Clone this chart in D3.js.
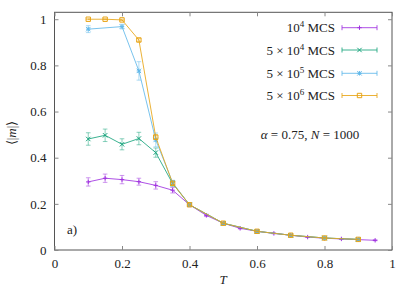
<!DOCTYPE html>
<html><head><meta charset="utf-8">
<script src="https://cdn.jsdelivr.net/npm/d3@7"></script>
<style>
body{margin:0;background:#fff;}
</style></head>
<body><svg id="c" width="415" height="291"></svg>
<script>
const T1=[0.1,0.15,0.2,0.25,0.3,0.35,0.4,0.45,0.5,0.55,0.6,0.65,0.7,0.75,0.8,0.85,0.9,0.95];
const m1=[0.295,0.311,0.305,0.296,0.28,0.259,0.196,0.150,0.116,0.094,0.081,0.072,0.064,0.056,0.051,0.048,0.045,0.042];
const e1=[0.018,0.018,0.018,0.015,0.016,0.012,0.008,0.005,0.004,0.003,0.003,0.002,0.002,0.002,0.002,0.002,0.002,0.002];
const T2=[0.1,0.15,0.2,0.25,0.3,0.35,0.4,0.5,0.6,0.7,0.8,0.9];
const m2=[0.481,0.497,0.458,0.483,0.422,0.288,0.196,0.116,0.081,0.064,0.052,0.046];
const e2=[0.027,0.027,0.024,0.027,0.02,0.012,0.006,0.003,0.002,0.002,0.002,0.002];
const T3=[0.1,0.2,0.25,0.3,0.35,0.4,0.5,0.6,0.7,0.8,0.9];
const m3=[0.957,0.968,0.776,0.477,0.292,0.196,0.116,0.081,0.064,0.052,0.046];
const e3=[0.015,0.01,0.04,0.03,0.01,0.005,0.003,0.002,0.002,0.002,0.002];
const T4=[0.1,0.15,0.2,0.25,0.3,0.35,0.4,0.5,0.6,0.7,0.8,0.9];
const m4=[1.0,1.0,0.997,0.91,0.489,0.289,0.196,0.116,0.081,0.064,0.052,0.046];
const e4=[0.002,0.002,0.003,0.006,0.01,0.006,0.004,0.002,0.002,0.002,0.002,0.002];
const colors=["#a033e0","#1aa57e","#62b9ea","#e8a415"];
const markers=["plus","cross","star","square"];
const xTicks=[0,0.2,0.4,0.6,0.8,1];
const yTicks=[0,0.2,0.4,0.6,0.8,1];
const FONT='"Liberation Serif","Times New Roman",serif';
const FS=13;

const svg=d3.select("#c").style("font-family",FONT);
const L=54.5,R=392,TOP=12.3,B=250;
const x=d3.scaleLinear().domain([0,1]).range([L,R]);
const y=d3.scaleLinear().domain([0,1.03]).range([B,TOP]);

svg.append("rect").attr("x",L).attr("y",TOP).attr("width",R-L).attr("height",B-TOP)
 .attr("fill","none").attr("stroke","#555").attr("stroke-width",1);
function styleAxis(a){
  a.attr("font-family",null);
  a.select(".domain").remove();
  a.selectAll("line").attr("stroke","#888");
  a.selectAll("text").attr("font-size",FS).attr("fill","#222").style("font-family",FONT);
}
styleAxis(svg.append("g").attr("transform",`translate(0,${B})`).call(d3.axisBottom(x).tickValues(xTicks).tickFormat(d3.format("")).tickSizeInner(-4).tickSizeOuter(0).tickPadding(9)));
styleAxis(svg.append("g").attr("transform",`translate(0,${TOP})`).call(d3.axisTop(x).tickValues(xTicks).tickFormat("").tickSizeInner(-4).tickSizeOuter(0)));
styleAxis(svg.append("g").attr("transform",`translate(${L},0)`).call(d3.axisLeft(y).tickValues(yTicks).tickFormat(d3.format("")).tickSizeInner(-4).tickSizeOuter(0).tickPadding(8)));
styleAxis(svg.append("g").attr("transform",`translate(${R},0)`).call(d3.axisRight(y).tickValues(yTicks).tickFormat("").tickSizeInner(-4).tickSizeOuter(0)));

function marker(sel,type,cx,cy,col){
  const s=2.2;
  let d;
  if(type==="plus") d=`M${cx-s},${cy}H${cx+s}M${cx},${cy-s}V${cy+s}`;
  else if(type==="cross") d=`M${cx-s},${cy-s}L${cx+s},${cy+s}M${cx-s},${cy+s}L${cx+s},${cy-s}`;
  else if(type==="star") d=`M${cx-s},${cy-s}L${cx+s},${cy+s}M${cx-s},${cy+s}L${cx+s},${cy-s}M${cx-s},${cy}H${cx+s}M${cx},${cy-s}V${cy+s}`;
  else d=`M${cx-s},${cy-s}H${cx+s}V${cy+s}H${cx-s}Z`;
  sel.append("path").attr("d",d).attr("stroke",col).attr("stroke-width",1).attr("fill","none");
}

const data=[[T1,m1,e1],[T2,m2,e2],[T3,m3,e3],[T4,m4,e4]];
const line=d3.line().x(d=>x(d[0])).y(d=>y(d[1]));
data.forEach(([T,m,e],i)=>{
  const col=colors[i];
  const gg=svg.append("g");
  const pts=T.map((t,j)=>[t,m[j],e[j]]);
  gg.append("path").attr("d",line(pts)).attr("fill","none").attr("stroke",col).attr("stroke-width",1).attr("stroke-opacity",0.85);
  pts.forEach(p=>{
    const cx=x(p[0]),y0=y(p[1]-p[2]),y1=y(p[1]+p[2]);
    gg.append("path").attr("d",`M${cx},${y0}V${y1}M${cx-2.3},${y0}H${cx+2.3}M${cx-2.3},${y1}H${cx+2.3}`)
      .attr("stroke",col).attr("stroke-width",1).attr("stroke-opacity",0.5).attr("fill","none");
    marker(gg,markers[i],cx,y(p[1]),col);
  });
});

const legY=[27.7,50,73.3,95.5];
const legTexts=[["","10","4"],["5 × ","10","4"],["5 × ","10","5"],["5 × ","10","6"]];
legTexts.forEach((lt,i)=>{
  const t=svg.append("text").attr("x",335).attr("y",legY[i]+4.5).attr("text-anchor","end").attr("font-size",FS).attr("fill","#222");
  t.append("tspan").text(lt[0]+lt[1]);
  t.append("tspan").attr("dy",-5).attr("font-size",9).text(lt[2]);
  t.append("tspan").attr("dy",5).text(" MCS");
  const col=colors[i];
  svg.append("path").attr("d",`M342,${legY[i]}H377M342,${legY[i]-2.5}V${legY[i]+2.5}M377,${legY[i]-2.5}V${legY[i]+2.5}`)
    .attr("stroke",col).attr("stroke-width",1).attr("fill","none").attr("stroke-opacity",0.85);
  marker(svg,markers[i],359.5,legY[i],col);
});

const an=svg.append("text").attr("x",310).attr("y",139).attr("text-anchor","middle").attr("font-size",FS).attr("fill","#222");
an.append("tspan").attr("font-style","italic").text("α");
an.append("tspan").text(" = 0.75, ");
an.append("tspan").attr("font-style","italic").text("N");
an.append("tspan").text(" = 1000");

svg.append("text").attr("x",72).attr("y",234).attr("text-anchor","middle").attr("font-size",FS).attr("fill","#222").text("a)");
svg.append("text").attr("x",223).attr("y",284).attr("text-anchor","middle").attr("font-size",FS).attr("font-style","italic").attr("fill","#222").text("T");
const yl=svg.append("text").attr("transform","translate(16,133) rotate(-90)").attr("text-anchor","middle").attr("font-size",FS).attr("fill","#222");
yl.append("tspan").text("⟨|");
yl.append("tspan").attr("font-style","italic").text("m");
yl.append("tspan").text("|⟩");
</script></body></html>
